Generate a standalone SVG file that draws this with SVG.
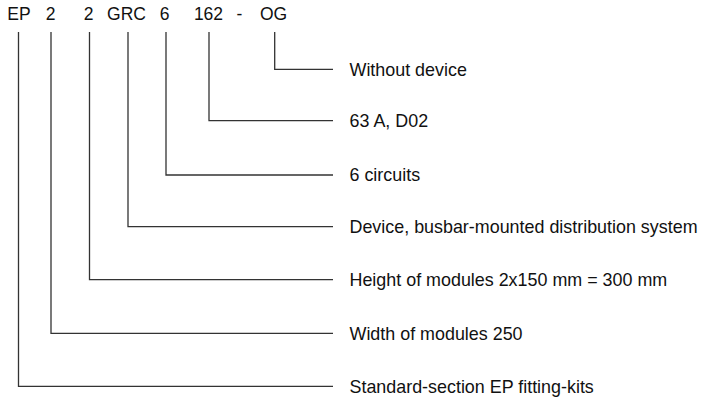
<svg xmlns="http://www.w3.org/2000/svg" width="718" height="400" viewBox="0 0 718 400">
<style>
.t{font-family:"Liberation Sans",Arial,sans-serif;font-size:17.5px;fill:#111}
.l{font-size:17.9px}
.c{fill:none;stroke:#333;stroke-width:1.3}
</style>
<rect width="718" height="400" fill="#fff"/>
<g id="code">
<text class="t" x="19" y="20" text-anchor="middle">EP</text>
<text class="t" x="50.5" y="20" text-anchor="middle">2</text>
<text class="t" x="88.5" y="20" text-anchor="middle">2</text>
<text class="t" x="126.5" y="20" text-anchor="middle">GRC</text>
<text class="t" x="164.5" y="20" text-anchor="middle">6</text>
<text class="t" x="208.5" y="20" text-anchor="middle">162</text>
<text class="t" x="239.5" y="20" text-anchor="middle">-</text>
<text class="t" x="273.5" y="20" text-anchor="middle">OG</text>
</g>
<g id="connectors">
<path class="c" d="M274.7 32V69.3H333"/>
<path class="c" d="M209 32V120.7H333"/>
<path class="c" d="M166 32V175H333"/>
<path class="c" d="M128 32V226.7H333"/>
<path class="c" d="M89.5 32V279.7H333"/>
<path class="c" d="M51 32V333.3H333"/>
<path class="c" d="M18.5 32V386.3H333"/>
</g>
<g id="label-og"><text class="t l" x="349.5" y="75.5">Without device</text></g>
<g id="label-162"><text class="t l" x="349.5" y="127">63 A, D02</text></g>
<g id="label-6"><text class="t l" x="349.5" y="181.3">6 circuits</text></g>
<g id="label-grc"><text class="t l" x="349.5" y="233">Device, busbar-mounted distribution system</text></g>
<g id="label-2b"><text class="t l" x="349.5" y="286">Height of modules 2x150 mm = 300 mm</text></g>
<g id="label-2a"><text class="t l" x="349.5" y="339.6">Width of modules 250</text></g>
<g id="label-ep"><text class="t l" x="349.5" y="392.6">Standard-section EP fitting-kits</text></g>
</svg>
